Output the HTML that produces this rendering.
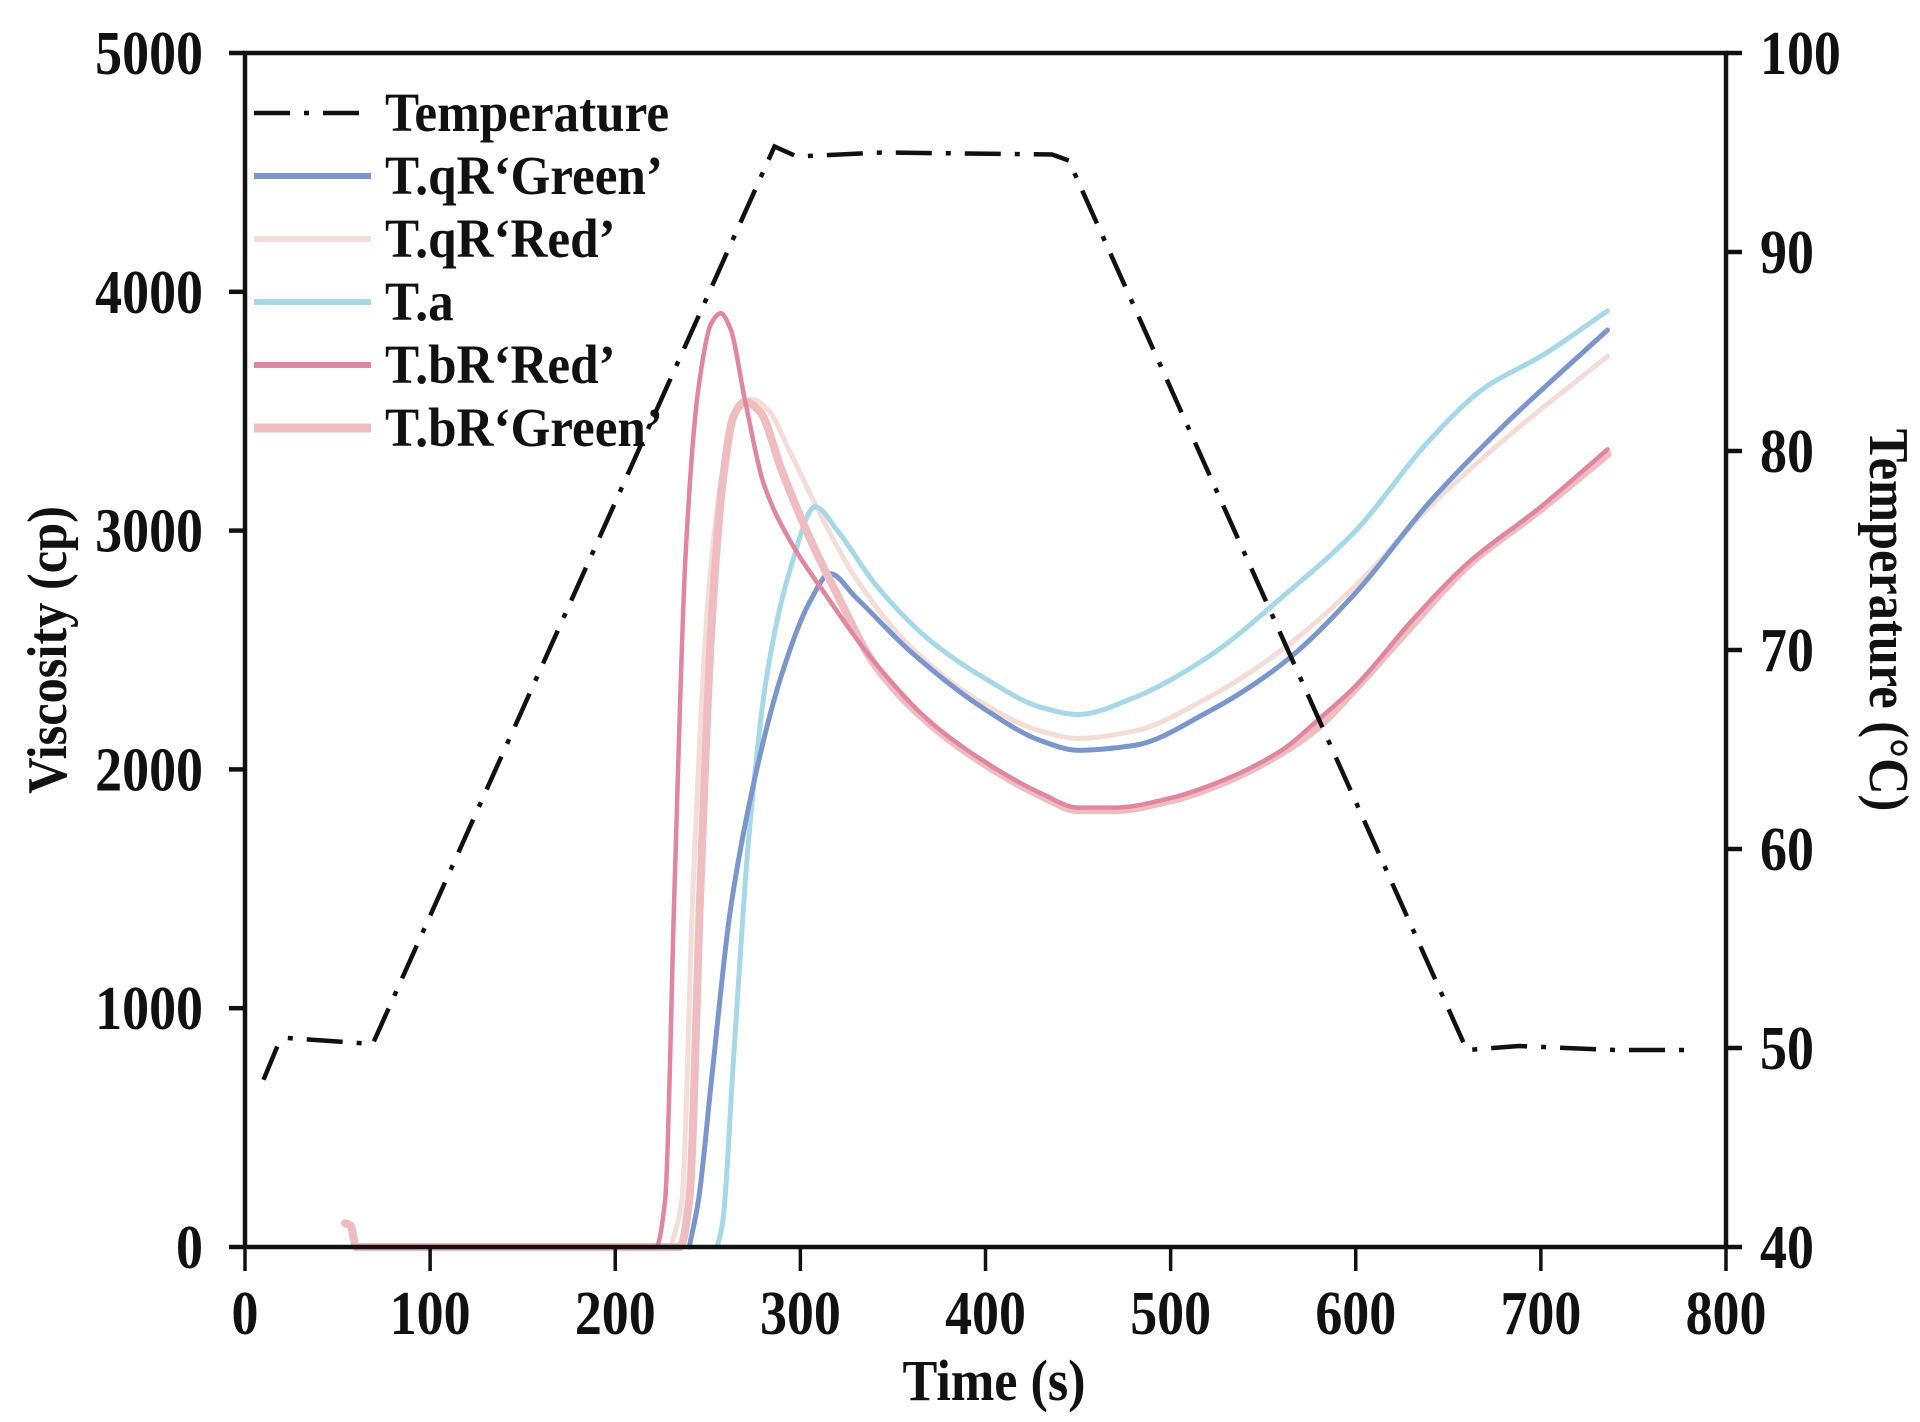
<!DOCTYPE html>
<html><head><meta charset="utf-8"><style>
html,body{margin:0;padding:0;background:#fff;}
svg{display:block;}
text{font-family:"Liberation Serif",serif;font-weight:bold;fill:#111;}
</style></head><body>
<svg id="chart" width="1920" height="1422" viewBox="0 0 1920 1422" xmlns="http://www.w3.org/2000/svg">
<g id="series"></g>
<g id="axes"></g>
<g id="legend"></g>
<text x="0" y="0" font-size="56" text-anchor="middle" transform="translate(66,650) rotate(-90) scale(0.9,1)">Viscosity (cp)</text>
<text x="0" y="0" font-size="56" text-anchor="middle" transform="translate(1870,620) rotate(90) scale(0.9,1)">Temperature (°C)</text>
<text x="0" y="0" font-size="58" text-anchor="middle" transform="translate(994,1400) scale(0.9,1)">Time (s)</text>
</svg>
<script>
const xTicks=[0,100,200,300,400,500,600,700,800];
const yTicks=[0,1000,2000,3000,4000,5000];
const y2Ticks=[40,50,60,70,80,90,100];
const tempTime=[10,18,23,69,286,298,344,436,445,660,688,740,783];
const tempVal=[48.4,50.2,50.5,50.2,95.3,94.8,95,94.9,94.6,49.9,50.1,49.9,49.9];
const qrGreenTime=[240,245,252,262,275,290,305,316,330,360,400,430,450,480,520,560,600,640,680,736];
const qrGreenVal=[0,200,700,1400,1950,2400,2700,2820,2720,2490,2250,2120,2080,2100,2240,2440,2740,3120,3440,3840];
const qrRedTime=[230,236,242,250,258,266,274,282,295,310,330,360,400,430,450,480,520,560,600,640,680,736];
const qrRedVal=[0,200,1500,2700,3250,3500,3550,3510,3320,3080,2800,2510,2270,2160,2130,2160,2300,2500,2770,3100,3380,3730];
const taTime=[255,258,264,272,282,295,308,320,340,370,400,430,450,480,520,560,600,640,670,700,736];
const taVal=[0,100,800,1700,2400,2850,3100,3000,2780,2540,2380,2260,2230,2300,2470,2720,3000,3380,3600,3730,3920];
const brRedTime=[60,222,227,232,238,245,252,257,262,270,280,295,312,340,370,400,430,450,470,500,530,560,580,600,630,660,700,736];
const brRedVal=[0,0,200,1500,2900,3600,3870,3910,3850,3550,3200,2950,2750,2450,2200,2030,1900,1840,1840,1880,1960,2080,2210,2350,2620,2860,3100,3340];
const brGreenTime=[54,57,60,235,240,246,252,258,264,270,278,290,305,320,340,370,400,430,450,470,500,530,560,580,600,630,660,700,736];
const brGreenVal=[100,90,0,0,200,1500,2600,3200,3480,3540,3500,3250,2970,2730,2440,2190,2020,1890,1830,1830,1870,1950,2070,2180,2340,2600,2850,3090,3320];
const legendLabels=["Temperature","T.qR\u2018Green\u2019","T.qR\u2018Red\u2019","T.a","T.bR\u2018Red\u2019","T.bR\u2018Green\u2019"];

const X0=245,X1=1726,Y0=1247,Y1=53;
const xs=t=>X0+(t/800)*(X1-X0);
const yL=v=>Y0-(v/5000)*(Y0-Y1);
const yR=T=>Y0-((T-40)/60)*(Y0-Y1);
const NS="http://www.w3.org/2000/svg";
function mk(tag,attrs,parent){const e=document.createElementNS(NS,tag);for(const k in attrs)e.setAttribute(k,attrs[k]);parent.appendChild(e);return e;}
function monotone(pts){const n=pts.length;const dx=[],sl=[];
 for(let i=0;i<n-1;i++){dx.push(pts[i+1][0]-pts[i][0]);sl.push((pts[i+1][1]-pts[i][1])/dx[i]);}
 const m=new Array(n);m[0]=sl[0];m[n-1]=sl[n-2];
 for(let i=1;i<n-1;i++){if(sl[i-1]*sl[i]<=0)m[i]=0;else{const w1=2*dx[i]+dx[i-1],w2=dx[i]+2*dx[i-1];m[i]=(w1+w2)/(w1/sl[i-1]+w2/sl[i]);}}
 let d="M"+pts[0][0].toFixed(1)+","+pts[0][1].toFixed(1);
 for(let i=0;i<n-1;i++){const h=dx[i]/3;
  d+=" C"+(pts[i][0]+h).toFixed(1)+","+(pts[i][1]+m[i]*h).toFixed(1)+" "+(pts[i+1][0]-h).toFixed(1)+","+(pts[i+1][1]-m[i+1]*h).toFixed(1)+" "+pts[i+1][0].toFixed(1)+","+pts[i+1][1].toFixed(1);}
 return d;}
const sg=document.getElementById('series');
const seriesDefs=[
 [qrRedTime,qrRedVal,"#f3ddd6",5,"series-qr-red"],
 [taTime,taVal,"#a6d8e8",5,"series-ta"],
 [qrGreenTime,qrGreenVal,"#7a96cc",5,"series-qr-green"],
 [brGreenTime,brGreenVal,"#efbcbf",8,"series-br-green"],
 [brRedTime,brRedVal,"#e0869e",4.5,"series-br-red"]];
seriesDefs.forEach(s=>{const pts=s[0].map((t,i)=>[xs(t),yL(s[1][i])]);
 const p=mk('path',{d:monotone(pts),fill:"none",stroke:s[2],"stroke-width":s[3],"stroke-linejoin":"round","stroke-linecap":"round"},sg);
 
 });
const tp=mk('polyline',{points:tempTime.map((t,i)=>xs(t).toFixed(1)+","+yR(tempVal[i]).toFixed(1)).join(" "),fill:"none",stroke:"#111","stroke-width":4.5,"stroke-dasharray":"36,14,5,14"},sg);



function label(parent,x,y,size,anchor,sx,txt){const t=mk('text',{x:0,y:0,"font-size":size,"text-anchor":anchor,transform:"translate("+x+","+y+") scale("+sx+",1)"},parent);t.textContent=txt;return t;}
const ag=document.getElementById('axes');
const frame=mk('rect',{x:X0,y:Y1,width:X1-X0,height:Y0-Y1,fill:"none",stroke:"#111","stroke-width":4.5},ag);


xTicks.forEach(t=>{mk('line',{x1:xs(t),x2:xs(t),y1:Y0,y2:Y0+24,stroke:"#111","stroke-width":3.5},ag);
 const tx=label(ag,xs(t),1334,62,"middle",0.87,t);
 
 });
yTicks.forEach(v=>{mk('line',{x1:X0-16,x2:X0,y1:yL(v),y2:yL(v),stroke:"#111","stroke-width":4.5},ag);
 const tx=label(ag,203,yL(v)+21,62,"end",0.87,v);
 
 });
y2Ticks.forEach(v=>{mk('line',{x1:X1,x2:X1+16,y1:yR(v),y2:yR(v),stroke:"#111","stroke-width":4.5},ag);
 const tx=label(ag,1760,yR(v)+21,62,"start",0.87,v);
 
 });

const lg=document.getElementById('legend');
const legStyles=[["#111",4.5,"36,14,5,14"],["#7a96cc",6,""],["#f3ddd6",6,""],["#a6d8e8",6,""],["#e0869e",6,""],["#efbcbf",9,""]];
legendLabels.forEach((lab,i)=>{const y=113+i*63;
 const ln=mk('line',{x1:254,x2:371,y1:y,y2:y,stroke:legStyles[i][0],"stroke-width":legStyles[i][1]},lg);
 if(legStyles[i][2])ln.setAttribute('stroke-dasharray',legStyles[i][2]);
 
 
 const tx=label(lg,385,y+18,55,"start",0.93,lab);
 
 });
</script>
</body></html>
